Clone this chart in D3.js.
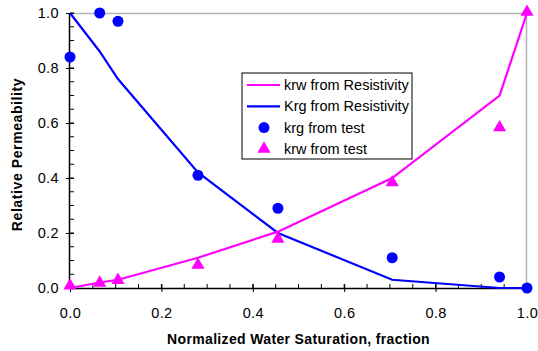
<!DOCTYPE html>
<html>
<head>
<meta charset="utf-8">
<script src="https://cdn.jsdelivr.net/npm/d3@7"></script>
<style>
  body { margin: 0; background: #fff; }
  text { font-family: "Liberation Sans", Arial, sans-serif; fill: #000; }
</style>
</head>
<body>
<svg id="chart"></svg>
<script>
// saturation points of the measured data
const testSw = [0, 0.065, 0.105, 0.28, 0.455, 0.705, 0.94, 1.0];
const krgTest = [0.84, 1.0, 0.97, 0.41, 0.29, 0.11, 0.04, 0.0];
const krwTest = [0.005, 0.015, 0.025, 0.08, 0.175, 0.38, 0.58, 1.0];

// resistivity derived curves
const resSw = [0, 0.065, 0.105, 0.28, 0.455, 0.705, 0.94, 1.0];
const krwRes = [0, 0.02, 0.03, 0.11, 0.205, 0.40, 0.70, 1.0];
const krgRes = [1.0, 0.86, 0.76, 0.42, 0.20, 0.03, 0.0, 0.0];

const xTicks = [0, 0.2, 0.4, 0.6, 0.8, 1.0];
const yTicks = [0, 0.2, 0.4, 0.6, 0.8, 1.0];

const legendItems = [
  {label: 'krw from Resistivity', type: 'line', color: '#ff00ff'},
  {label: 'Krg from Resistivity', type: 'line', color: '#0000ff'},
  {label: 'krg from test', type: 'circle', color: '#0000ff'},
  {label: 'krw from test', type: 'triangle', color: '#ff00ff'}
];

const width = 538, height = 351;
const margin = {top: 13, right: 11, bottom: 63, left: 70};
const w = width - margin.left - margin.right;
const h = height - margin.top - margin.bottom;

const svg = d3.select('#chart').attr('width', width).attr('height', height);
const chart = svg.append('g').attr('transform', `translate(${margin.left},${margin.top})`);

const x = d3.scaleLinear().domain([0, 1]).range([0, w]);
const y = d3.scaleLinear().domain([0, 1]).range([h, 0]);

// gray frame on top and right
chart.append('line').attr('x1', 0).attr('x2', w).attr('y1', 0.5).attr('y2', 0.5)
  .attr('stroke', '#b3b3b3').attr('stroke-width', 1.5);
chart.append('line').attr('x1', w - 0.5).attr('x2', w - 0.5).attr('y1', 0).attr('y2', h)
  .attr('stroke', '#b3b3b3').attr('stroke-width', 1.5);

// minor ticks
const minor = d3.range(0, 1.0001, 0.05);
chart.append('g').selectAll('line').data(minor).join('line')
  .attr('x1', d => x(d)).attr('x2', d => x(d)).attr('y1', h).attr('y2', h - 4)
  .attr('stroke', '#000');
chart.append('g').selectAll('line').data(minor).join('line')
  .attr('x1', 0).attr('x2', 4).attr('y1', d => y(d)).attr('y2', d => y(d))
  .attr('stroke', '#000');

const xAxis = d3.axisBottom(x).tickValues(xTicks).tickSize(4).tickPadding(16)
  .tickFormat(d3.format('.1f'));
const yAxis = d3.axisLeft(y).tickValues(yTicks).tickSize(4).tickPadding(7)
  .tickFormat(d3.format('.1f'));

chart.append('g').attr('transform', `translate(0,${h})`).call(xAxis)
  .call(g => g.select('.domain').attr('d', `M0,0.5H${w}`).attr('stroke-width', 1.5))
  .call(g => g.selectAll('.tick line').attr('y1', -4))
  .call(g => g.selectAll('.tick text').style('font-size', '14.5px')
    .style('letter-spacing', '0.4px').attr('fill', '#000'));
chart.append('g').call(yAxis)
  .call(g => g.select('.domain').attr('d', `M-0.5,0V${h}`).attr('stroke-width', 1.5))
  .call(g => g.selectAll('.tick line').attr('x1', 4))
  .call(g => g.selectAll('.tick text').style('font-size', '14.5px')
    .style('letter-spacing', '0.4px').attr('fill', '#000'));

const line = d3.line().x(d => x(d[0])).y(d => y(d[1]));

chart.append('path').datum(d3.zip(resSw, krgRes)).attr('d', line)
  .attr('fill', 'none').attr('stroke', '#0000ff').attr('stroke-width', 2.2);
chart.append('path').datum(d3.zip(resSw, krwRes)).attr('d', line)
  .attr('fill', 'none').attr('stroke', '#ff00ff').attr('stroke-width', 2.2);

chart.selectAll('.krg').data(d3.zip(testSw, krgTest)).join('circle')
  .attr('class', 'krg')
  .attr('cx', d => x(d[0])).attr('cy', d => y(d[1])).attr('r', 5.5)
  .attr('fill', '#0000ff');

const tri = d3.symbol().type(d3.symbolTriangle).size(75);
chart.selectAll('.krw').data(d3.zip(testSw, krwTest)).join('path')
  .attr('class', 'krw')
  .attr('transform', d => `translate(${x(d[0])},${y(d[1]) - 1})`)
  .attr('d', tri)
  .attr('fill', '#ff00ff');

// axis titles
svg.append('text')
  .attr('x', margin.left + w / 2).attr('y', 344)
  .attr('text-anchor', 'middle').style('font-size', '14px').style('font-weight', 'bold')
  .style('letter-spacing', '0.35px')
  .text('Normalized Water Saturation, fraction');
svg.append('text')
  .attr('transform', `translate(22,${margin.top + h / 2 + 4}) rotate(-90)`)
  .attr('text-anchor', 'middle').style('font-size', '14px').style('font-weight', 'bold')
  .style('letter-spacing', '0.6px')
  .text('Relative Permeability');

// legend
const lg = svg.append('g').attr('transform', 'translate(242,73)');
lg.append('rect').attr('width', 170).attr('height', 86)
  .attr('fill', '#fff').attr('stroke', '#000').attr('stroke-width', 1);
const row = lg.selectAll('.row').data(legendItems).join('g')
  .attr('transform', (d, i) => `translate(0,${12 + i * 21.3})`);
row.filter(d => d.type === 'line').append('line')
  .attr('x1', 5).attr('x2', 38).attr('stroke', d => d.color).attr('stroke-width', 2.2);
row.filter(d => d.type === 'circle').append('circle')
  .attr('cx', 22).attr('r', 5.5).attr('fill', d => d.color);
row.filter(d => d.type === 'triangle').append('path')
  .attr('transform', 'translate(22,0)').attr('d', tri).attr('fill', d => d.color);
row.append('text').attr('x', 42).attr('dy', '0.35em').style('font-size', '14.5px')
  .text(d => d.label);
</script>
</body>
</html>
